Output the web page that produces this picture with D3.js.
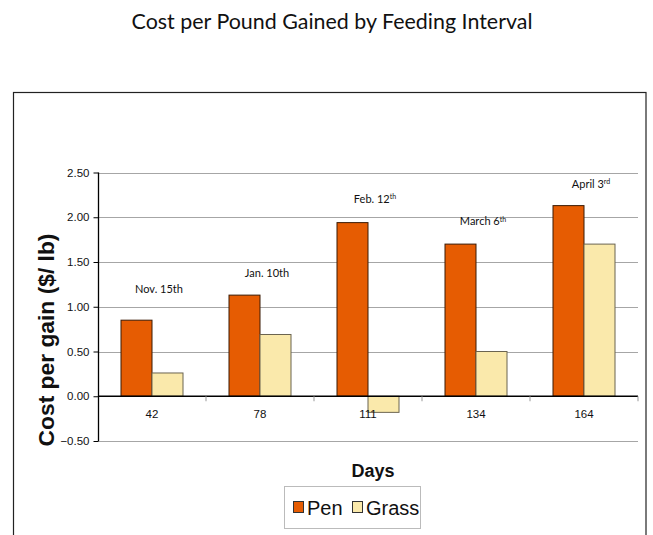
<!DOCTYPE html>
<html>
<head>
<meta charset="utf-8">
<script src="https://cdn.jsdelivr.net/npm/d3@7"></script>
<style>
  html, body { margin: 0; padding: 0; background: #fff; }
  svg { display: block; }
</style>
</head>
<body>
<svg id="chart" width="653" height="535"></svg>
<script>
// Feeding intervals (days on feed) and the date each interval ended
const days = ["42", "78", "111", "134", "164"];
const dateMain = ["Nov. 15th", "Jan. 10th", "Feb. 12", "March 6", "April 3"];
const dateSup = ["", "", "th", "th", "rd"];

// Cost per pound gained ($/lb)
const series = ["Pen", "Grass"];
const penCost = [0.85, 1.13, 1.94, 1.70, 2.13];
const grassCost = [0.26, 0.69, -0.18, 0.50, 1.70];

const yTicks = [-0.5, 0, 0.5, 1.0, 1.5, 2.0, 2.5];

const colors = { Pen: "#E65C02", Grass: "#FAE9AB" };

const svg = d3.select("#chart");

// Scale a text element's font so it spans the given width
function fitWidth(sel, basePx, width) {
  const w = sel.node().getComputedTextLength();
  sel.style("font-size", (basePx * width / w).toFixed(2) + "px");
}

// Outer frame
svg.append("rect")
  .attr("x", 13.5).attr("y", 92.5)
  .attr("width", 632.5).attr("height", 460)
  .attr("fill", "none").attr("stroke", "#222").attr("stroke-width", 1.2);

// Title
const title = svg.append("text")
  .attr("x", 332).attr("y", 29)
  .attr("text-anchor", "middle")
  .style("font-family", "Lato, 'Open Sans', sans-serif")
  .style("font-size", "24px")
  .attr("fill", "#111")
  .text("Cost per Pound Gained by Feeding Interval");
fitWidth(title, 24, 401);

const plot = { left: 98, right: 638, top: 172.5, bottom: 441 };

const x = d3.scaleBand().domain(days).range([plot.left, plot.right]);
const y = d3.scaleLinear().domain([-0.5, 2.5]).range([plot.bottom, plot.top]);
const barW = 31;

const g = svg.append("g");

// Horizontal gridlines
g.selectAll("line.grid")
  .data(yTicks.filter(t => t !== 0))
  .join("line")
  .attr("class", "grid")
  .attr("x1", plot.left).attr("x2", plot.right)
  .attr("y1", d => Math.round(y(d)) + 0.5).attr("y2", d => Math.round(y(d)) + 0.5)
  .attr("stroke", "#a6a6a6").attr("stroke-width", 1);

// Y axis
const yAxis = d3.axisLeft(y).tickValues(yTicks).tickFormat(d3.format(".2f")).tickSize(5).tickPadding(4);
const yg = svg.append("g").attr("transform", `translate(${plot.left + 0.5},0)`).call(yAxis);
yg.select(".domain").attr("stroke", "#000").attr("stroke-width", 1.3).attr("d", `M0,${plot.top}V${plot.bottom}`);
yg.selectAll(".tick line").attr("stroke", "#000");
yg.selectAll(".tick text")
  .style("font-family", "Arial, 'Liberation Sans', sans-serif")
  .style("font-size", "11.5px").attr("fill", "#111");

// Bars
const groups = g.selectAll("g.cat")
  .data(days.map((d, i) => ({ day: d, Pen: penCost[i], Grass: grassCost[i] })))
  .join("g").attr("class", "cat");

series.forEach((s, k) => {
  groups.append("rect")
    .attr("x", d => x(d.day) + x.bandwidth() / 2 - barW + k * barW)
    .attr("y", d => y(Math.max(0, d[s])))
    .attr("width", barW)
    .attr("height", d => Math.abs(y(d[s]) - y(0)))
    .attr("fill", colors[s])
    .attr("stroke", s === "Pen" ? "#3a1a05" : "#6b6450")
    .attr("stroke-width", 1);
});

// Zero line and category ticks
const xAxis = d3.axisBottom(x).tickSize(0).tickPadding(14);
const xg = svg.append("g").attr("transform", `translate(0,${y(0)})`).call(xAxis);
xg.select(".domain").attr("stroke", "#000").attr("stroke-width", 1.5).attr("d", `M${plot.left},0H${plot.right}`);
xg.selectAll(".tick text")
  .style("font-family", "Arial, 'Liberation Sans', sans-serif")
  .style("font-size", "11.5px").attr("fill", "#111");
svg.append("g").selectAll("line")
  .data(days.slice(1).map(d => x(d)).concat([plot.right]))
  .join("line")
  .attr("x1", d => d).attr("x2", d => d)
  .attr("y1", y(0)).attr("y2", y(0) + 5)
  .attr("stroke", "#999");

// Interval end-date labels above the pen bars
const labelLift = [27, 18, 20, 19, 18];
const labels = svg.append("g").selectAll("text")
  .data(days.map((d, i) => i))
  .join("text")
  .attr("x", i => x(days[i]) + x.bandwidth() / 2 + 7)
  .attr("y", i => y(penCost[i]) - labelLift[i])
  .attr("text-anchor", "middle")
  .style("font-family", "Lato, 'Open Sans', sans-serif")
  .style("font-size", "11px")
  .attr("fill", "#111");
labels.append("tspan").text(i => dateMain[i]);
labels.append("tspan")
  .attr("dy", "-0.45em")
  .style("font-size", "7px")
  .text(i => dateSup[i]);

// Axis titles
const yTitle = svg.append("text")
  .attr("transform", "translate(54,340) rotate(-90)")
  .attr("text-anchor", "middle")
  .style("font-family", "Arial, 'Liberation Sans', sans-serif")
  .style("font-weight", "bold")
  .style("font-size", "19px")
  .attr("fill", "#111")
  .text("Cost per gain ($/ lb)");
fitWidth(yTitle, 19, 213);

svg.append("text")
  .attr("x", 373).attr("y", 477)
  .attr("text-anchor", "middle")
  .style("font-family", "Arial, 'Liberation Sans', sans-serif")
  .style("font-weight", "bold")
  .style("font-size", "18px")
  .attr("fill", "#111")
  .text("Days");

// Legend
const legend = svg.append("g");
legend.append("rect")
  .attr("x", 284.5).attr("y", 486.5).attr("width", 136).attr("height", 42)
  .attr("fill", "#fff").attr("stroke", "#bbb");
const legendX = [293, 352];
series.forEach((s, k) => {
  legend.append("rect")
    .attr("x", legendX[k] + 0.5).attr("y", 501.5).attr("width", 10).attr("height", 11)
    .attr("fill", colors[s]).attr("stroke", "#333");
  legend.append("text")
    .attr("x", legendX[k] + 14).attr("y", 515)
    .style("font-family", "Arial, 'Liberation Sans', sans-serif")
    .style("font-size", "20px")
    .attr("fill", "#111")
    .text(s);
});
</script>
</body>
</html>
